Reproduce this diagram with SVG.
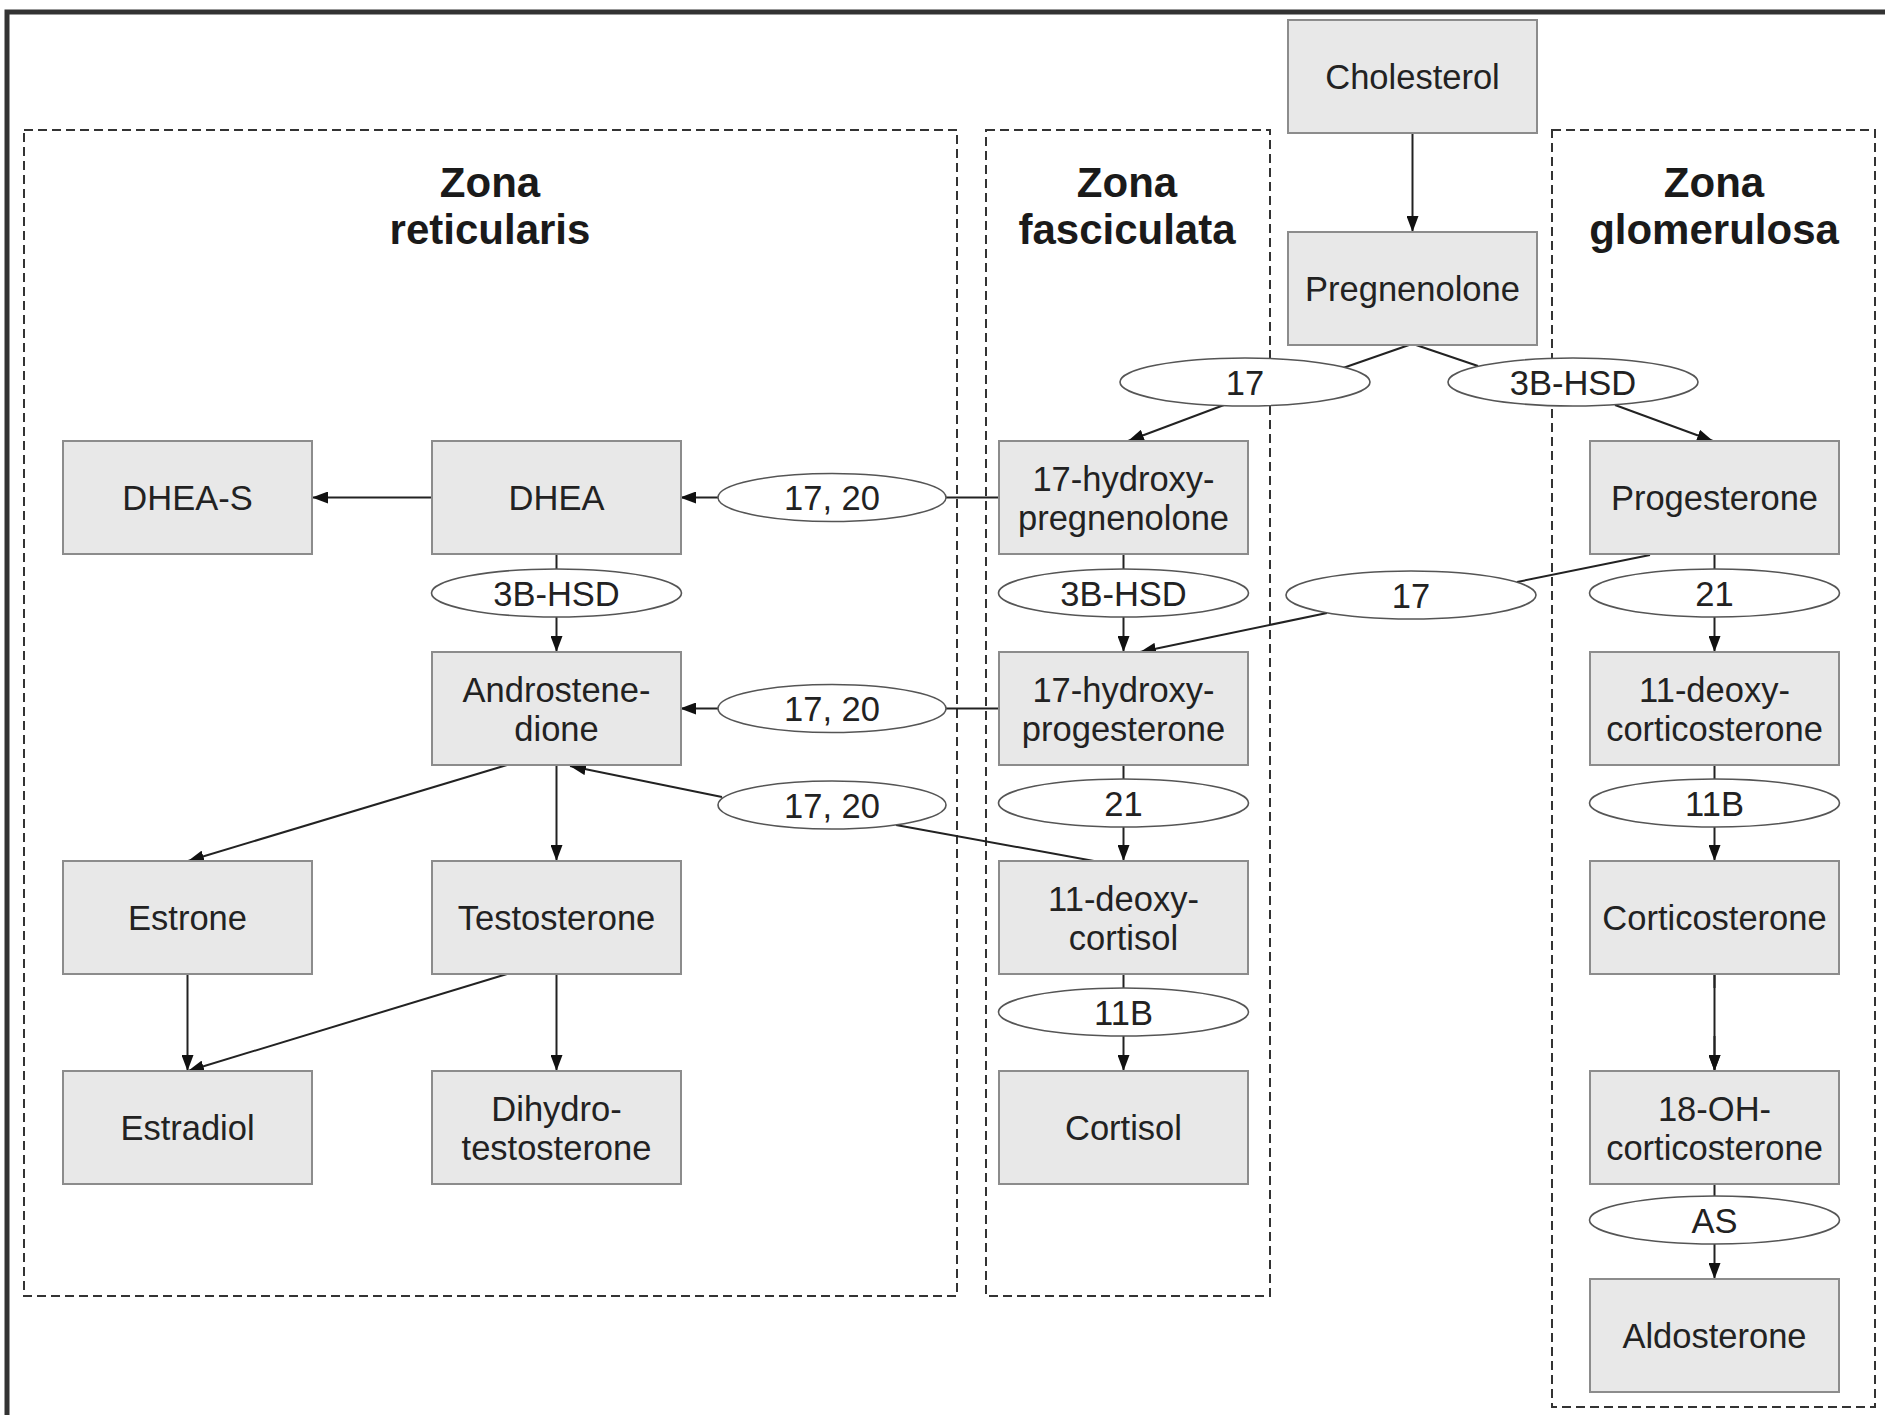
<svg xmlns="http://www.w3.org/2000/svg" width="1885" height="1415" viewBox="0 0 1885 1415">
<style>
.box{fill:#e8e8e8;stroke:#8c8c8c;stroke-width:2}
.ell{fill:#fff;stroke:#555;stroke-width:1.6}
.zone{fill:none;stroke:#333;stroke-width:2;stroke-dasharray:9,5}
.t{font-family:"Liberation Sans",Arial,Helvetica,sans-serif;font-size:34.5px;fill:#222;text-anchor:middle}
.title{font-family:"Liberation Sans",Arial,Helvetica,sans-serif;font-size:42px;font-weight:bold;fill:#1a1a1a;text-anchor:middle}
.c{fill:none;stroke:#222;stroke-width:2}
.a{marker-end:url(#arr)}
</style>
<defs>
<marker id="arr" markerUnits="userSpaceOnUse" markerWidth="16" markerHeight="12" viewBox="0 0 16 12" refX="16" refY="6" orient="auto">
<path d="M0,0 L16,6 L0,12 z" fill="#111"/>
</marker>
</defs>
<rect width="1885" height="1415" fill="#fff"/>
<path d="M7,1415 V12 H1885" fill="none" stroke="#333" stroke-width="5"/>

<g id="zones">
<g id="zone-reticularis"><rect class="zone" x="24" y="130" width="933" height="1166"/><text class="title" x="490" y="197"><tspan x="490">Zona</tspan><tspan x="490" dy="47">reticularis</tspan></text></g>
<g id="zone-fasciculata"><rect class="zone" x="986" y="130" width="284" height="1166"/><text class="title" x="1127" y="197"><tspan x="1127">Zona</tspan><tspan x="1127" dy="47">fasciculata</tspan></text></g>
<g id="zone-glomerulosa"><rect class="zone" x="1552" y="130" width="323" height="1277"/><text class="title" x="1714" y="197"><tspan x="1714">Zona</tspan><tspan x="1714" dy="47">glomerulosa</tspan></text></g>
</g>

<g id="connectors">
<path class="c a" d="M1412.5,133 V232"/>
<path class="c" d="M1409,345 L1343,368"/>
<path class="c a" d="M1224,405 L1128,441"/>
<path class="c" d="M1416,345 L1478,366"/>
<path class="c a" d="M1615,405 L1713,441"/>
<path class="c" d="M999,497.5 H946"/>
<path class="c a" d="M718,497.5 H680"/>
<path class="c a" d="M432,497.5 H312"/>
<path class="c" d="M556.5,554 V569"/>
<path class="c a" d="M556.5,617 V652"/>
<path class="c" d="M1123.5,554 V569"/>
<path class="c a" d="M1123.5,617 V652"/>
<path class="c" d="M1650,555 L1517,582"/>
<path class="c a" d="M1327,613 L1140,652"/>
<path class="c" d="M1714.5,554 V569"/>
<path class="c a" d="M1714.5,617 V652"/>
<path class="c" d="M999,708.5 H946"/>
<path class="c a" d="M718,708.5 H680"/>
<path class="c" d="M1123.5,765 V779"/>
<path class="c a" d="M1123.5,827 V861"/>
<path class="c" d="M1094,861 L896,825"/>
<path class="c a" d="M722,797 L570,766"/>
<path class="c" d="M1714.5,765 V779"/>
<path class="c a" d="M1714.5,827 V861"/>
<path class="c a" d="M507,765 L188,861"/>
<path class="c a" d="M556.5,765 V861"/>
<path class="c a" d="M187.5,974 V1071"/>
<path class="c a" d="M507,974 L188,1071"/>
<path class="c a" d="M556.5,974 V1071"/>
<path class="c" d="M1123.5,974 V988"/>
<path class="c a" d="M1123.5,1036 V1071"/>
<path class="c" d="M1714.5,974 V988"/>
<path class="c a" d="M1714.5,1036 V1071"/>
<path class="c a" d="M1714.5,974 V1071"/>
<path class="c" d="M1714.5,1184 V1196"/>
<path class="c a" d="M1714.5,1244 V1279"/>
</g>

<g id="n-cholesterol"><rect class="box" x="1288" y="20" width="249" height="113"/><text class="t" x="1412.5" y="89">Cholesterol</text></g>
<g id="n-pregnenolone"><rect class="box" x="1288" y="232" width="249" height="113"/><text class="t" x="1412.5" y="301">Pregnenolone</text></g>
<g id="e-17-top"><ellipse class="ell" cx="1245" cy="382" rx="125" ry="24"/><text class="t" x="1245" y="394.5">17</text></g>
<g id="e-3bhsd-top"><ellipse class="ell" cx="1573" cy="382" rx="125" ry="24"/><text class="t" x="1573" y="394.5">3B-HSD</text></g>

<g id="n-dheas"><rect class="box" x="63" y="441" width="249" height="113"/><text class="t" x="187.5" y="510">DHEA-S</text></g>
<g id="n-dhea"><rect class="box" x="432" y="441" width="249" height="113"/><text class="t" x="556.5" y="510">DHEA</text></g>
<g id="e-1720-a"><ellipse class="ell" cx="832" cy="497.5" rx="114" ry="24"/><text class="t" x="832" y="510">17, 20</text></g>
<g id="n-17ohpreg"><rect class="box" x="999" y="441" width="249" height="113"/><text class="t" x="1123.5" y="491"><tspan x="1123.5">17-hydroxy-</tspan><tspan x="1123.5" dy="38.5">pregnenolone</tspan></text></g>
<g id="n-progesterone"><rect class="box" x="1590" y="441" width="249" height="113"/><text class="t" x="1714.5" y="510">Progesterone</text></g>

<g id="e-3bhsd-b"><ellipse class="ell" cx="556.5" cy="593" rx="125" ry="24"/><text class="t" x="556.5" y="605.5">3B-HSD</text></g>
<g id="e-3bhsd-c"><ellipse class="ell" cx="1123.5" cy="593" rx="125" ry="24"/><text class="t" x="1123.5" y="605.5">3B-HSD</text></g>
<g id="e-17-mid"><ellipse class="ell" cx="1411" cy="595" rx="125" ry="24"/><text class="t" x="1411" y="607.5">17</text></g>
<g id="e-21-d"><ellipse class="ell" cx="1714.5" cy="593" rx="125" ry="24"/><text class="t" x="1714.5" y="605.5">21</text></g>

<g id="n-androstenedione"><rect class="box" x="432" y="652" width="249" height="113"/><text class="t" x="556.5" y="702"><tspan x="556.5">Androstene-</tspan><tspan x="556.5" dy="38.5">dione</tspan></text></g>
<g id="e-1720-b"><ellipse class="ell" cx="832" cy="708.5" rx="114" ry="24"/><text class="t" x="832" y="721">17, 20</text></g>
<g id="n-17ohprog"><rect class="box" x="999" y="652" width="249" height="113"/><text class="t" x="1123.5" y="702"><tspan x="1123.5">17-hydroxy-</tspan><tspan x="1123.5" dy="38.5">progesterone</tspan></text></g>
<g id="n-11doc"><rect class="box" x="1590" y="652" width="249" height="113"/><text class="t" x="1714.5" y="702"><tspan x="1714.5">11-deoxy-</tspan><tspan x="1714.5" dy="38.5">corticosterone</tspan></text></g>

<g id="e-1720-c"><ellipse class="ell" cx="832" cy="805" rx="114" ry="24"/><text class="t" x="832" y="817.5">17, 20</text></g>
<g id="e-21-c"><ellipse class="ell" cx="1123.5" cy="803" rx="125" ry="24"/><text class="t" x="1123.5" y="815.5">21</text></g>
<g id="e-11b-d"><ellipse class="ell" cx="1714.5" cy="803" rx="125" ry="24"/><text class="t" x="1714.5" y="815.5">11B</text></g>

<g id="n-estrone"><rect class="box" x="63" y="861" width="249" height="113"/><text class="t" x="187.5" y="930">Estrone</text></g>
<g id="n-testosterone"><rect class="box" x="432" y="861" width="249" height="113"/><text class="t" x="556.5" y="930">Testosterone</text></g>
<g id="n-11deoxycortisol"><rect class="box" x="999" y="861" width="249" height="113"/><text class="t" x="1123.5" y="911"><tspan x="1123.5">11-deoxy-</tspan><tspan x="1123.5" dy="38.5">cortisol</tspan></text></g>
<g id="n-corticosterone"><rect class="box" x="1590" y="861" width="249" height="113"/><text class="t" x="1714.5" y="930">Corticosterone</text></g>

<g id="e-11b-c"><ellipse class="ell" cx="1123.5" cy="1012" rx="125" ry="24"/><text class="t" x="1123.5" y="1024.5">11B</text></g>

<g id="n-estradiol"><rect class="box" x="63" y="1071" width="249" height="113"/><text class="t" x="187.5" y="1140">Estradiol</text></g>
<g id="n-dht"><rect class="box" x="432" y="1071" width="249" height="113"/><text class="t" x="556.5" y="1121"><tspan x="556.5">Dihydro-</tspan><tspan x="556.5" dy="38.5">testosterone</tspan></text></g>
<g id="n-cortisol"><rect class="box" x="999" y="1071" width="249" height="113"/><text class="t" x="1123.5" y="1140">Cortisol</text></g>
<g id="n-18oh"><rect class="box" x="1590" y="1071" width="249" height="113"/><text class="t" x="1714.5" y="1121"><tspan x="1714.5">18-OH-</tspan><tspan x="1714.5" dy="38.5">corticosterone</tspan></text></g>

<g id="e-as"><ellipse class="ell" cx="1714.5" cy="1220" rx="125" ry="24"/><text class="t" x="1714.5" y="1232.5">AS</text></g>
<g id="n-aldosterone"><rect class="box" x="1590" y="1279" width="249" height="113"/><text class="t" x="1714.5" y="1348">Aldosterone</text></g>
</svg>
